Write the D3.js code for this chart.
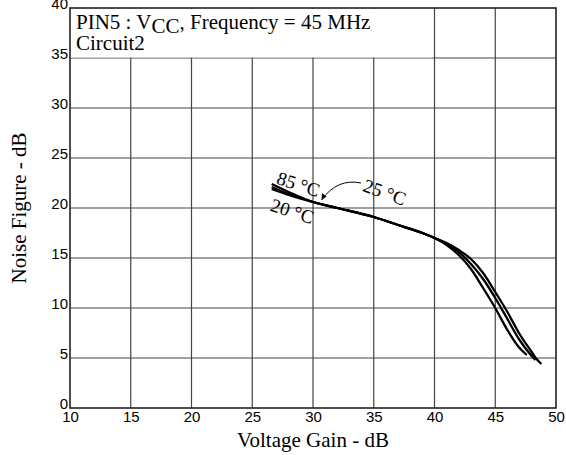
<!DOCTYPE html>
<html><head><meta charset="utf-8">
<script src="https://cdn.jsdelivr.net/npm/d3@7"></script>
<style>body{margin:0;background:#fff}svg{display:block}</style>
</head><body>
<svg id="c" width="566" height="455"></svg>
<script>
const xTicks = [10, 15, 20, 25, 30, 35, 40, 45, 50];
const yTicks = [0, 5, 10, 15, 20, 25, 30, 35, 40];
const gain85 = [26.6, 28, 30, 32, 35, 37, 39, 40, 41, 42, 43, 44, 45, 46, 47, 47.6];
const nf85   = [22.4, 21.6, 20.6, 20.0, 19.1, 18.3, 17.5, 17.0, 16.3, 15.3, 13.9, 12.0, 10.0, 7.8, 6.0, 5.3];
const gain25 = [26.6, 28, 30, 32, 35, 37, 39, 40, 41, 42, 43, 44, 45, 46, 47, 48.0, 48.3];
const nf25   = [22.1, 21.4, 20.6, 20.0, 19.1, 18.3, 17.5, 17.0, 16.4, 15.6, 14.4, 12.9, 11.0, 8.9, 6.8, 5.2, 4.8];
const gain20 = [26.6, 28, 30, 32, 35, 37, 39, 40, 41, 42, 43, 44, 45, 46, 47, 48.0, 48.4, 48.8];
const nf20   = [21.9, 21.3, 20.6, 20.0, 19.1, 18.3, 17.5, 17.0, 16.5, 15.8, 14.9, 13.5, 11.6, 9.6, 7.4, 5.6, 4.9, 4.4];
const seriesNames = ["85 °C", "25 °C", "20 °C"];
const titleLine1 = ["PIN5 : V", "CC", ", Frequency = 45 MHz"];
const titleLine2 = "Circuit2";
const xTitle = "Voltage Gain - dB";
const yTitle = "Noise Figure - dB";

const serif = "Liberation Serif, Times New Roman, serif";
const sans = "Liberation Sans, Arial, sans-serif";
const svg = d3.select("#c");
const x = d3.scaleLinear().domain([10, 50]).range([70, 556]);
const y = d3.scaleLinear().domain([0, 40]).range([408, 8]);

// grid
const g = svg.append("g");
g.selectAll("line.vx").data(xTicks.slice(1, -1)).enter().append("line")
  .attr("x1", d => x(d)).attr("x2", d => x(d)).attr("y1", y(40)).attr("y2", y(0))
  .attr("stroke", "#444").attr("stroke-width", 1.2);
g.selectAll("line.hy").data(yTicks.slice(1, -1)).enter().append("line")
  .attr("x1", x(10)).attr("x2", x(50)).attr("y1", d => y(d)).attr("y2", d => y(d))
  .attr("stroke", "#444").attr("stroke-width", 1.2);

// legend box (covers grid)
svg.append("rect").attr("x", x(10) + 1).attr("y", y(40) + 1)
  .attr("width", x(40) - x(10) - 3).attr("height", y(35) - y(40) - 1.5)
  .attr("fill", "#fff");

const t1 = svg.append("text").attr("x", 76).attr("y", 29)
  .attr("font-family", serif).attr("font-size", 21).attr("fill", "#000");
t1.append("tspan").text(titleLine1[0]);
t1.append("tspan").attr("dy", 4).text(titleLine1[1]);
t1.append("tspan").attr("dy", -4).text(titleLine1[2]);
svg.append("text").attr("x", 76).attr("y", 50)
  .attr("font-family", serif).attr("font-size", 21).text(titleLine2);

// border
svg.append("rect").attr("x", x(10)).attr("y", y(40)).attr("width", x(50) - x(10)).attr("height", y(0) - y(40))
  .attr("fill", "none").attr("stroke", "#222").attr("stroke-width", 1.6);

// axes labels
const xa = d3.axisBottom(x).tickValues(xTicks).tickSize(0).tickPadding(3);
const xg = svg.append("g").attr("transform", `translate(0,${y(0)})`).call(xa);
xg.select(".domain").remove();
xg.selectAll("text").attr("font-family", sans).attr("font-size", 15).attr("fill", "#000");
const ya = d3.axisLeft(y).tickValues(yTicks).tickSize(0).tickPadding(2);
const yg = svg.append("g").attr("transform", `translate(${x(10)},0)`).call(ya);
yg.select(".domain").remove();
yg.selectAll("text").attr("font-family", sans).attr("font-size", 15).attr("fill", "#000")
  .attr("dy", "0.05em");

svg.append("text").attr("x", (x(10) + x(50)) / 2).attr("y", 447).attr("text-anchor", "middle")
  .attr("font-family", serif).attr("font-size", 21).text(xTitle);
svg.append("text").attr("transform", `translate(26,${(y(0) + y(40)) / 2}) rotate(-90)`).attr("text-anchor", "middle")
  .attr("font-family", serif).attr("font-size", 21).text(yTitle);

// curves
const line = d3.line().x(d => x(d[0])).y(d => y(d[1])).curve(d3.curveMonotoneX);
const series = [d3.zip(gain85, nf85), d3.zip(gain25, nf25), d3.zip(gain20, nf20)];
svg.selectAll("path.c").data(series).enter().append("path")
  .attr("d", line).attr("fill", "none").attr("stroke", "#000").attr("stroke-width", 2.3);

// annotations
const lbl = [[28.8, 22.4, 18], [35.9, 21.6, 20], [28.3, 19.7, 18]];
svg.selectAll("text.t").data(seriesNames).enter().append("text")
  .attr("transform", (d, i) => `translate(${x(lbl[i][0])},${y(lbl[i][1])}) rotate(${lbl[i][2]})`)
  .attr("text-anchor", "middle").attr("dy", "0.35em")
  .attr("font-family", serif).attr("font-size", 19)
  .text(d => d);

// arrow for 25 °C
const ax0 = x(33.95), ay0 = y(22.5), ax1 = x(30.7), ay1 = y(20.8);
svg.append("path").attr("d", `M${ax0},${ay0} Q${x(32.0)},${y(23.0)} ${ax1},${ay1}`)
  .attr("fill", "none").attr("stroke", "#000").attr("stroke-width", 1);
svg.append("path").attr("d", `M${ax1},${ay1} l0.5,-7 l4.5,3.5 z`).attr("fill", "#000");
</script>
</body></html>
